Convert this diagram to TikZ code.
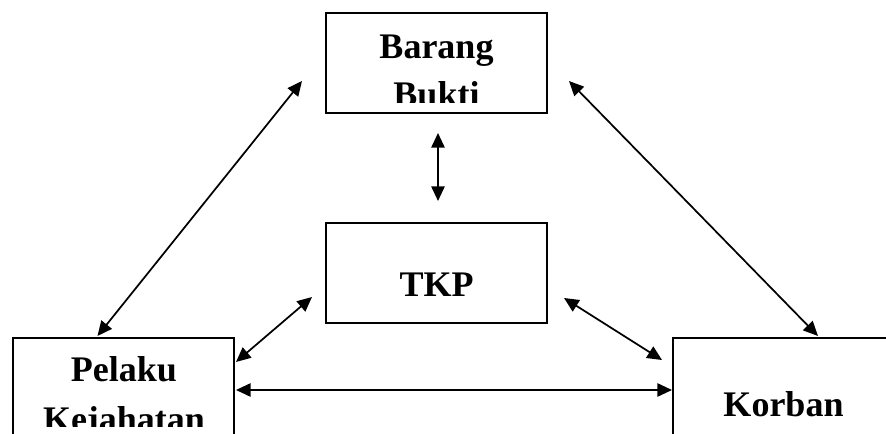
\documentclass[tikz,border=0pt]{standalone}
\usepackage{fontspec}
\setmainfont{Liberation Serif}
\usetikzlibrary{arrows.meta}

\tikzset{
  box/.style={draw,line width=1.5pt,minimum width=165.75pt,minimum height=75pt,inner sep=0pt},
  lbl/.style={font=\bfseries\fontsize{27}{30}\selectfont,anchor=base,inner sep=0pt},
  link/.style={line width=1.3pt,{Triangle[length=11pt,width=10pt]}-{Triangle[length=11pt,width=10pt]}}
}

\begin{document}
\begin{tikzpicture}[x=0.75pt,y=-0.75pt]
  \useasboundingbox (0,0) rectangle (886,434);

  % Boxes
  \node[box] (bukti) at (436.5,63) {};
  \node[box] (tkp) at (436.5,273) {};
  \node[box] (pelaku) at (123.5,388) {};
  \node[box] (korban) at (783.5,388) {};

  % Labels
  \node[lbl] (barang) at (436.5,59) {Barang};
  \begin{scope}
    \clip (327,64) rectangle (546,103);
    \node[lbl] (buktitxt) at (436.5,107) {Bukti};
  \end{scope}
  \node[lbl] (tkptxt) at (436.5,297) {TKP};
  \node[lbl] (pel) at (124,382) {Pelaku};
  \begin{scope}
    \clip (14,390) rectangle (233,427);
    \node[lbl] (jahat) at (124,432) {Kejahatan};
  \end{scope}
  \node[lbl] (korbantxt) at (783.5,417) {Korban};

  % Arrows
  \draw[link] ([shift={(-23,18)}]bukti.west) -- ([shift={(-26,-1)}]pelaku.north);
  \draw[link] ([shift={(21,18)}]bukti.east) -- ([shift={(34.5,-1)}]korban.north);
  \draw[link] ([shift={(1.5,19)}]bukti.south) -- ([shift={(1.5,-21)}]tkp.north);
  \draw[link] ([shift={(-13,24)}]tkp.west) -- ([shift={(1,-26)}]pelaku.east);
  \draw[link] ([shift={(16,25)}]tkp.east) -- ([shift={(-10,-28)}]korban.west);
  \draw[link] ([shift={(1,2)}]pelaku.east) -- ([shift={(0,2)}]korban.west);
\end{tikzpicture}
\end{document}
